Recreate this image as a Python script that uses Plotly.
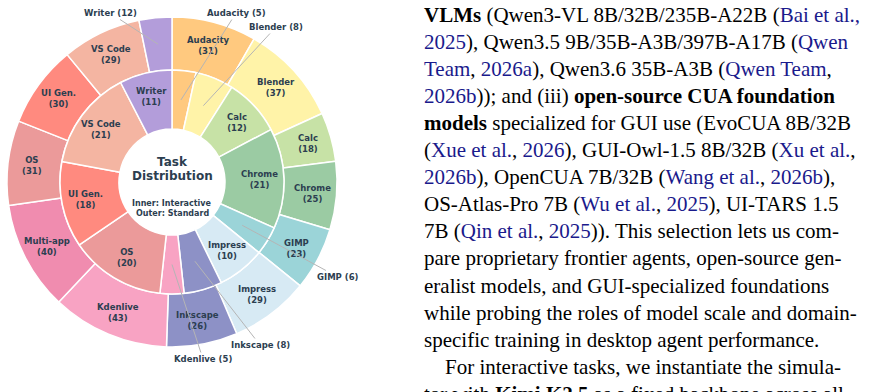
import numpy as np
import plotly.graph_objects as go

# ---------------- data ----------------
categories = ["Audacity", "Blender", "Calc", "Chrome", "GIMP", "Impress", "Inkscape",
              "Kdenlive", "Multi-app", "OS", "UI Gen.", "VS Code", "Writer"]
standard_counts = [31, 37, 18, 25, 23, 29, 26, 43, 40, 31, 30, 29, 12]       # outer ring
interactive_counts = [5, 8, 12, 21, 6, 10, 8, 5, 0, 20, 18, 21, 11]          # inner ring
cat_colors = ["#FFC97F", "#FFF3A8", "#C7E2A6", "#9BCBA3", "#9BD4D8", "#D7EAF4", "#8D91C6",
              "#F8A3C3", "#F08CAF", "#EB9A9A", "#FF8A7F", "#F4B5A2", "#B39DDA"]

paragraph_lines = [
    "<b>VLMs</b> (Qwen3-VL 8B/32B/235B-A22B (<L>Bai et al.,</L>",
    "<L>2025</L>), Qwen3.5 9B/35B-A3B/397B-A17B (<L>Qwen</L>",
    "<L>Team</L>, <L>2026a</L>), Qwen3.6 35B-A3B (<L>Qwen Team</L>,",
    "<L>2026b</L>)); and (iii) <b>open-source CUA foundation</b>",
    "<b>models</b> specialized for GUI use (EvoCUA 8B/32B",
    "(<L>Xue et al.</L>, <L>2026</L>), GUI-Owl-1.5 8B/32B (<L>Xu et al.</L>,",
    "<L>2026b</L>), OpenCUA 7B/32B (<L>Wang et al.</L>, <L>2026b</L>),",
    "OS-Atlas-Pro 7B (<L>Wu et al.</L>, <L>2025</L>), UI-TARS 1.5",
    "7B (<L>Qin et al.</L>, <L>2025</L>)). This selection lets us com-",
    "pare proprietary frontier agents, open-source gen-",
    "eralist models, and GUI-specialized foundations",
    "while probing the roles of model scale and domain-",
    "specific training in desktop agent performance.",
    "For interactive tasks, we instantiate the simula-",
    "tor with <b>Kimi K2.5</b> as a fixed backbone across all",
]

# ---------------- layout constants ----------------
W, H = 870, 392
CX, CY = 172, 182          # pixel centre of the donut
R_OUT, R_MID, R_IN = 165, 112, 53
TXT = "#2c3e50"
FONT = "DejaVu Sans"
LINK = "#1a1a8c"

fig = go.Figure()

# helper axes in pixel coordinates
fig.add_trace(go.Scatter(x=[0, W], y=[0, H], mode="markers",
                         marker=dict(opacity=0), hoverinfo="skip", showlegend=False))

def dom(r):
    return dict(x=[(CX - r) / W, (CX + r) / W],
                y=[(H - CY - r) / H, (H - CY + r) / H])

outer_vals = np.array(standard_counts, dtype=float)
inner_idx = [i for i, v in enumerate(interactive_counts) if v > 0]
inner_vals = np.array([interactive_counts[i] for i in inner_idx], dtype=float)
inner_labels = [categories[i] for i in inner_idx]
inner_colors = [cat_colors[i] for i in inner_idx]

fig.add_trace(go.Pie(values=outer_vals, labels=categories, domain=dom(R_OUT),
                     hole=R_MID / R_OUT, sort=False, direction="clockwise", rotation=0,
                     marker=dict(colors=cat_colors, line=dict(color="white", width=1.5)),
                     textinfo="none", hoverinfo="label+value", showlegend=False))
fig.add_trace(go.Pie(values=inner_vals, labels=inner_labels, domain=dom(R_MID),
                     hole=R_IN / R_MID, sort=False, direction="clockwise", rotation=0,
                     marker=dict(colors=inner_colors, line=dict(color="white", width=1.5)),
                     textinfo="none", hoverinfo="label+value", showlegend=False))

annotations = []

def mid_angles(vals):
    c = np.cumsum(vals)
    return np.deg2rad((c - vals / 2) / c[-1] * 360.0)

def pt(theta, r):
    return CX + r * np.sin(theta), CY - r * np.cos(theta)

lab_font = dict(family=FONT, size=8.5, color=TXT)

# external label positions for narrow slices (pixel coords)
ext_pos = {("outer", "Writer"): (110, 13),
           ("inner", "Audacity"): (236, 13),
           ("inner", "Blender"): (276, 27),
           ("inner", "GIMP"): (338, 277),
           ("inner", "Inkscape"): (260, 345),
           ("inner", "Kdenlive"): (203, 359)}

for ring, vals, labs, r_lab, r_line in [("outer", outer_vals, categories, 141, (R_OUT + R_MID) / 2),
                                        ("inner", inner_vals, inner_labels, 88, (R_MID + R_IN) / 2)]:
    th = mid_angles(vals)
    for t, v, name in zip(th, vals, labs):
        if (ring, name) in ext_pos:
            tx, ty = ext_pos[(ring, name)]
            px, py = pt(t, r_line)
            annotations.append(dict(x=px, y=py, xref="x", yref="y", ax=tx, ay=ty,
                                    axref="x", ayref="y", showarrow=True, arrowhead=0,
                                    arrowwidth=1, arrowcolor="#b5b5b5", standoff=0,
                                    text=f"<b>{name} ({int(v)})</b>", font=lab_font))
        else:
            px, py = pt(t, r_lab)
            annotations.append(dict(x=px, y=py, xref="x", yref="y", showarrow=False,
                                    text=f"<b>{name}</b><br><b>({int(v)})</b>",
                                    font=lab_font, xanchor="center", yanchor="middle"))

# centre text
annotations.append(dict(x=CX, y=162, xref="x", yref="y", showarrow=False, text="<b>Task</b>",
                        font=dict(family=FONT, size=12, color=TXT)))
annotations.append(dict(x=CX, y=176, xref="x", yref="y", showarrow=False, text="<b>Distribution</b>",
                        font=dict(family=FONT, size=12, color=TXT)))
annotations.append(dict(x=CX, y=203, xref="x", yref="y", showarrow=False, text="<b>Inner: Interactive</b>",
                        font=dict(family=FONT, size=8, color=TXT)))
annotations.append(dict(x=CX, y=213, xref="x", yref="y", showarrow=False, text="<b>Outer: Standard</b>",
                        font=dict(family=FONT, size=8, color=TXT)))

# paragraph text (anchored 12 px higher and shifted back down so the last,
# partly visible line stays inside the axis range)
for k, line in enumerate(paragraph_lines):
    txt = line.replace("<L>", f"<span style='color:{LINK}'>").replace("</L>", "</span>")
    x0 = 443 if line.startswith("For interactive") else 422
    annotations.append(dict(x=x0, y=15 + 27.05 * k - 12, yshift=-12, xref="x", yref="y",
                            showarrow=False, text=txt, xanchor="left", yanchor="middle",
                            font=dict(family="Liberation Serif", size=21, color="#000000")))

fig.update_layout(
    width=W, height=H, margin=dict(l=0, r=0, t=0, b=0),
    paper_bgcolor="white", plot_bgcolor="white",
    xaxis=dict(range=[0, W], visible=False, fixedrange=True, domain=[0, 1]),
    yaxis=dict(range=[H, 0], visible=False, fixedrange=True, domain=[0, 1]),
    annotations=annotations, showlegend=False,
)

fig.write_html("out.html")
